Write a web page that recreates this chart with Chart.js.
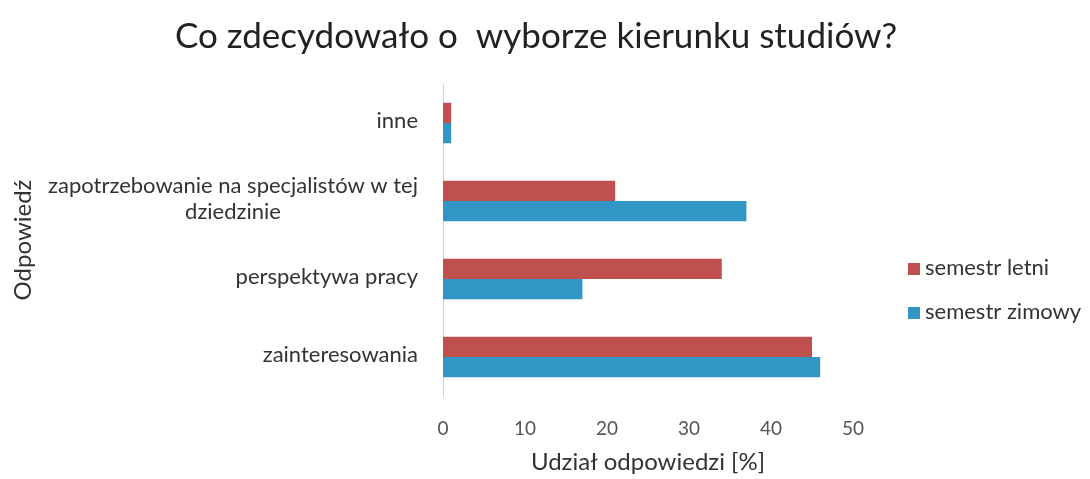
<!DOCTYPE html>
<html>
<head>
<meta charset="utf-8">
<script src="https://cdn.jsdelivr.net/npm/chart.js@4/dist/chart.umd.min.js"></script>
<style>
  html, body { margin: 0; padding: 0; background: #fff; }
</style>
</head>
<body>
<canvas id="chart" width="1090" height="479"></canvas>
<script>
const categories = ["inne", ["zapotrzebowanie na specjalistów w tej", "dziedzinie"], "perspektywa pracy", "zainteresowania"];
const summerValues = [1, 21, 34, 45];
const winterValues = [1, 37, 17, 46];
const xTicks = [0, 10, 20, 30, 40, 50];
const seriesNames = ["semestr letni", "semestr zimowy"];
const seriesColors = ["#c0504d", "#3196c4"];

const FONT = "Lato";
const labelColor = "#333";

// category labels: block right-aligned, lines centred inside the block
const wrappedLabels = {
  id: "wrappedLabels",
  afterDraw(chart) {
    const scale = chart.scales.y;
    const ctx = chart.ctx;
    const size = 22, lh = 26;
    ctx.save();
    ctx.font = `${size}px ${FONT}`;
    ctx.fillStyle = labelColor;
    ctx.textAlign = "center";
    ctx.textBaseline = "middle";
    const right = scale.right - scale.options.ticks.padding;
    categories.forEach((cat, i) => {
      const lines = [].concat(cat);
      const blockW = Math.max(...lines.map(l => ctx.measureText(l).width));
      const cx = right - blockW / 2;
      const cy = scale.getPixelForTick(i);
      lines.forEach((line, j) => {
        ctx.fillText(line, cx, cy + (j - (lines.length - 1) / 2) * lh - 2);
      });
    });
    ctx.restore();
  }
};

const sideLegend = {
  id: "sideLegend",
  afterDraw(chart) {
    const ctx = chart.ctx;
    const x = chart.chartArea.right + 55;
    ctx.save();
    ctx.font = `22px ${FONT}`;
    ctx.textBaseline = "middle";
    chart.data.datasets.forEach((ds, i) => {
      const y = chart.chartArea.top + 184 + i * 44;
      ctx.fillStyle = ds.backgroundColor;
      ctx.fillRect(x, y - 5, 12, 12);
      ctx.fillStyle = labelColor;
      ctx.fillText(ds.label, x + 17, y);
    });
    ctx.restore();
  }
};

new Chart(document.getElementById("chart"), {
  type: "bar",
  data: {
    labels: categories,
    datasets: [
      { label: seriesNames[0], data: summerValues, backgroundColor: seriesColors[0] },
      { label: seriesNames[1], data: winterValues, backgroundColor: seriesColors[1] },
    ].map(d => ({ ...d, borderWidth: 0, barPercentage: 1, categoryPercentage: 0.52 })),
  },
  options: {
    indexAxis: "y",
    responsive: false,
    animation: false,
    devicePixelRatio: 1,
    layout: { padding: { left: 6, top: 0, right: 24, bottom: 2 } },
    plugins: {
      legend: { display: false },
      tooltip: { enabled: false },
      title: {
        display: true,
        text: "Co zdecydowało o  wyborze kierunku studiów?",
        color: "#222",
        font: { family: FONT, size: 35, weight: "normal" },
        padding: { top: 16, bottom: 26 },
      },
    },
    scales: {
      x: {
        min: 0,
        max: 50,
        afterBuildTicks: s => { s.ticks = xTicks.map(v => ({ value: v })); },
        afterFit: s => { s.height = 81; },
        grid: { display: false, drawTicks: false },
        border: { display: false },
        ticks: { color: "#555", padding: 21, font: { family: FONT, size: 19 } },
        title: {
          display: true,
          text: "Udział odpowiedzi [%]",
          color: labelColor,
          font: { family: FONT, size: 24 },
          padding: { top: 9, bottom: 0 },
        },
      },
      y: {
        grid: { display: false, drawTicks: false },
        border: { display: true, color: "#d4d4d4", dash: [2, 2] },
        ticks: { color: "transparent", padding: 25, font: { family: FONT, size: 22 } },
        afterFit: s => { s.width = 437; },
        title: {
          display: true,
          text: "Odpowiedź",
          color: labelColor,
          font: { family: FONT, size: 24 },
          padding: { top: 3, bottom: 4 },
        },
      },
      // empty right-hand axis that only reserves room for the legend
      side: {
        type: "linear",
        position: "right",
        axis: "y",
        grid: { display: false },
        border: { display: false },
        ticks: { display: false },
        afterFit: s => { s.width = 213; },
      },
    },
  },
  plugins: [wrappedLabels, sideLegend],
});
</script>
</body>
</html>
